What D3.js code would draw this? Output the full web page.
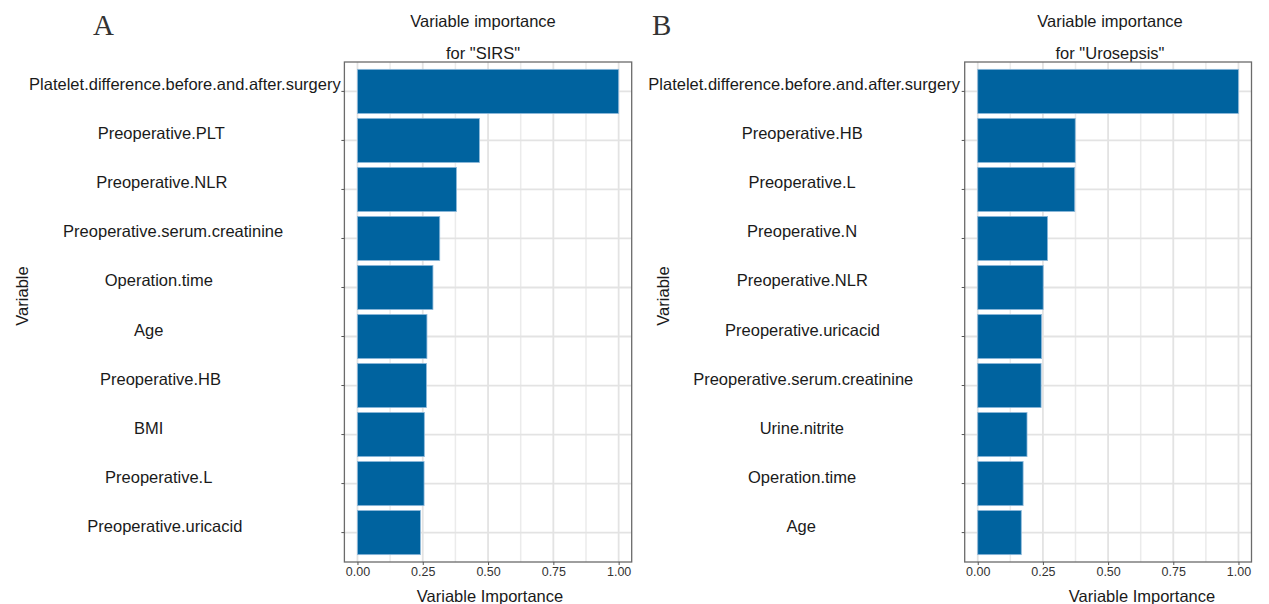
<!DOCTYPE html>
<html>
<head>
<meta charset="utf-8">
<script src="https://cdn.jsdelivr.net/npm/d3@7"></script>
<style>
  html, body { margin: 0; padding: 0; background: #ffffff; }
  svg { display: block; }
  text { font-family: "Liberation Sans", Arial, Helvetica, sans-serif; }
  text.panel-letter { font-family: "Liberation Serif", "Times New Roman", serif; }
</style>
</head>
<body>
<svg id="chart" width="1269" height="604"></svg>
<script>
// Variable importance, panel A (outcome: SIRS)
const sirsVariables = [
  "Platelet.difference.before.and.after.surgery",
  "Preoperative.PLT",
  "Preoperative.NLR",
  "Preoperative.serum.creatinine",
  "Operation.time",
  "Age",
  "Preoperative.HB",
  "BMI",
  "Preoperative.L",
  "Preoperative.uricacid"
];
const sirsImportance = [1.00, 0.467, 0.379, 0.315, 0.289, 0.266, 0.264, 0.256, 0.255, 0.241];

// Variable importance, panel B (outcome: Urosepsis)
const urosepsisVariables = [
  "Platelet.difference.before.and.after.surgery",
  "Preoperative.HB",
  "Preoperative.L",
  "Preoperative.N",
  "Preoperative.NLR",
  "Preoperative.uricacid",
  "Preoperative.serum.creatinine",
  "Urine.nitrite",
  "Operation.time",
  "Age"
];
const urosepsisImportance = [1.00, 0.374, 0.372, 0.268, 0.251, 0.245, 0.243, 0.189, 0.174, 0.167];

const xTicks = [0, 0.25, 0.5, 0.75, 1.0];
const xMinorTicks = [0.125, 0.375, 0.625, 0.875];

const svg = d3.select("#chart");
const BAR = "#00639f";

function drawPanel(cfg) {
  const { letter, letterX, titleLines, titleX, left, right, top, bottom,
          variables, values, labelAnchor, labelHjust, yTitleX, xTitleX } = cfg;

  const x = d3.scaleLinear().domain([-0.05, 1.05]).range([left, right]);
  const y = d3.scaleBand().domain(variables).range([top, bottom])
    .paddingInner(0.1).paddingOuter(0.15);

  const g = svg.append("g");

  // panel letter
  g.append("text")
    .attr("class", "panel-letter")
    .attr("x", letterX).attr("y", 35)
    .attr("font-size", 29).attr("fill", "#333")
    .text(letter);

  // title (two lines)
  titleLines.forEach((t, i) => {
    g.append("text")
      .attr("x", titleX).attr("y", 27 + i * 31.5)
      .attr("text-anchor", "middle")
      .attr("font-size", 16.5).attr("fill", "#1a1a1a")
      .text(t);
  });

  // minor vertical grid
  g.append("g").selectAll("line").data(xMinorTicks).join("line")
    .attr("x1", d => x(d)).attr("x2", d => x(d))
    .attr("y1", top).attr("y2", bottom)
    .attr("stroke", "#ebebeb").attr("stroke-width", 1.5);

  // major vertical grid
  g.append("g").selectAll("line").data(xTicks).join("line")
    .attr("x1", d => x(d)).attr("x2", d => x(d))
    .attr("y1", top).attr("y2", bottom)
    .attr("stroke", "#e3e3e3").attr("stroke-width", 1.8);

  // horizontal grid at category centres
  g.append("g").selectAll("line").data(variables).join("line")
    .attr("x1", left).attr("x2", right)
    .attr("y1", d => y(d) + y.bandwidth() / 2)
    .attr("y2", d => y(d) + y.bandwidth() / 2)
    .attr("stroke", "#e3e3e3").attr("stroke-width", 1.8);

  // bars
  g.append("g").selectAll("rect").data(variables).join("rect")
    .attr("x", x(0))
    .attr("y", d => y(d))
    .attr("width", (d, i) => x(values[i]) - x(0))
    .attr("height", y.bandwidth())
    .attr("fill", BAR)
    .attr("stroke", "#8db8da").attr("stroke-width", 0.8);

  // panel border
  g.append("rect")
    .attr("x", left).attr("y", top)
    .attr("width", right - left).attr("height", bottom - top)
    .attr("fill", "none").attr("stroke", "#6b6b6b").attr("stroke-width", 1.3);

  // x axis ticks and labels
  const xAxis = d3.axisBottom(x).tickValues(xTicks)
    .tickFormat(d3.format(".2f")).tickSizeInner(3).tickSizeOuter(0).tickPadding(2);
  const xa = g.append("g").attr("transform", `translate(0,${bottom})`).call(xAxis);
  xa.select(".domain").remove();
  xa.selectAll(".tick line").attr("stroke", "#555");
  xa.selectAll(".tick text")
    .attr("font-size", 12.5).attr("fill", "#333")
    .attr("dy", null).attr("y", 13.7);

  // y axis ticks
  const yAxis = d3.axisLeft(y).tickSizeInner(3).tickSizeOuter(0).tickFormat("");
  const ya = g.append("g").attr("transform", `translate(${left},0)`).call(yAxis);
  ya.select(".domain").remove();
  ya.selectAll(".tick line").attr("stroke", "#555");

  // y category labels
  g.append("g").selectAll("text").data(variables).join("text")
    .attr("y", d => y(d) + y.bandwidth() / 2 - 1)
    .attr("font-size", 16.5).attr("fill", "#1a1a1a")
    .text(d => d)
    .each(function () {
      const w = this.getComputedTextLength();
      d3.select(this).attr("x", labelAnchor - labelHjust * w);
    });

  // axis titles
  g.append("text")
    .attr("x", xTitleX).attr("y", 602)
    .attr("text-anchor", "middle")
    .attr("font-size", 16.5).attr("fill", "#1a1a1a")
    .text("Variable Importance");

  g.append("text")
    .attr("transform", `translate(${yTitleX},296) rotate(-90)`)
    .attr("text-anchor", "middle")
    .attr("font-size", 16.5).attr("fill", "#1a1a1a")
    .text("Variable");
}

drawPanel({
  letter: "A", letterX: 93,
  titleLines: ["Variable importance", "for \"SIRS\""], titleX: 483,
  left: 344.4, right: 631.7, top: 62, bottom: 562,
  variables: sirsVariables, values: sirsImportance,
  labelAnchor: 145, labelHjust: 0.372,
  yTitleX: 28, xTitleX: 490
});

drawPanel({
  letter: "B", letterX: 652,
  titleLines: ["Variable importance", "for \"Urosepsis\""], titleX: 1110,
  left: 964.7, right: 1251.5, top: 62, bottom: 562,
  variables: urosepsisVariables, values: urosepsisImportance,
  labelAnchor: 801, labelHjust: 0.49,
  yTitleX: 669, xTitleX: 1142
});
</script>
</body>
</html>
